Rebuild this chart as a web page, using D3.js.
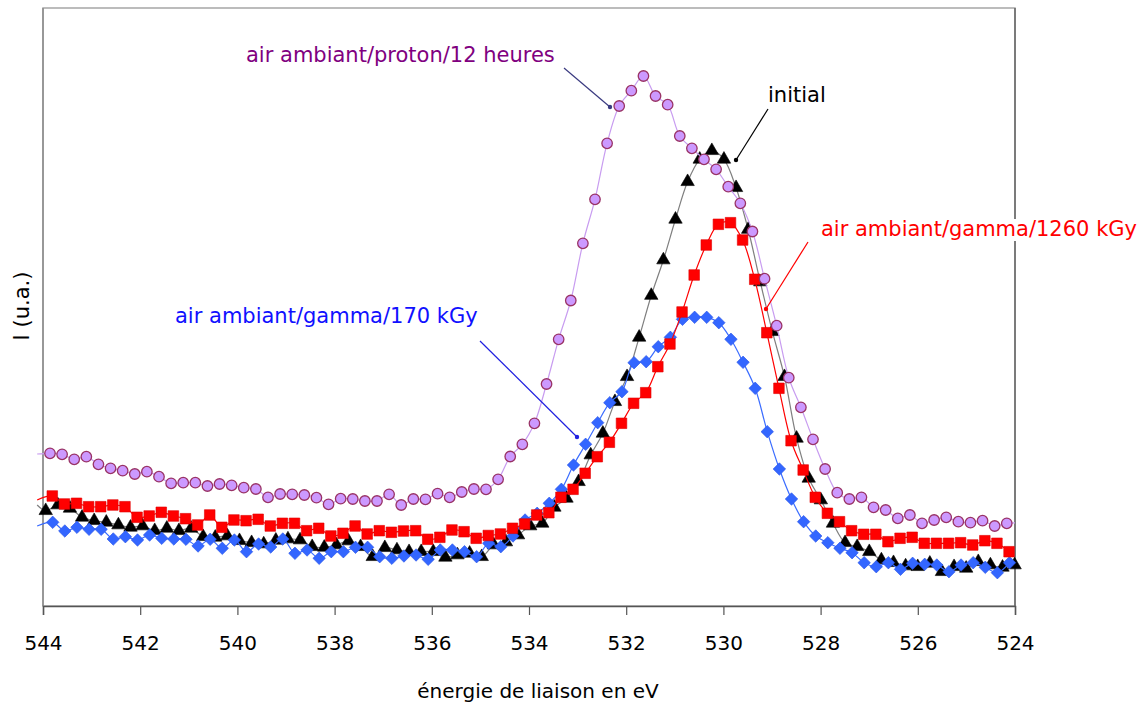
<!DOCTYPE html>
<html>
<head>
<meta charset="utf-8">
<script src="https://cdn.jsdelivr.net/npm/d3@7"></script>
<style>
  html, body { margin: 0; padding: 0; background: #ffffff; }
  svg { display: block; font-family: "DejaVu Sans", Verdana, sans-serif; }
</style>
</head>
<body>
<svg id="chart" width="1146" height="713"></svg>
<script>
// ---------------- data ----------------
const seriesNames = ["initial", "air ambiant/gamma/170 kGy", "air ambiant/gamma/1260 kGy", "air ambiant/proton/12 heures"];
const xTicks = [544, 542, 540, 538, 536, 534, 532, 530, 528, 526, 524];
const xTitle = "énergie de liaison en eV";
const yTitle = "I (u.a.)";

// first binding energy of each series (eV) and sampling step (eV)
const startEnergies = [543.944, 543.80, 543.809, 543.856];
const energyStep = 0.2492;
// points just beyond the left edge of the plot (line only)
const leadEnergy = 544.12;
const leadValues = [100, 79, 105, 151];
// point just beyond the right edge (line only), proton series
const protonTailValue = 82;

const initialValues = [94.3, 100, 96.7, 87.7, 84.3, 82.7, 80, 77.7, 79, 74.3, 76.7, 74.3, 76.7, 68.3, 67.7, 69, 64.3, 62.3, 61, 64.7,
  66, 65, 58.3, 57.7, 60, 64, 58.3, 48.3, 57.3, 55, 53.3, 53.3, 53.3, 47.7, 50, 51.7, 48.3, 60, 63, 70,
  79, 81.7, 97.7, 106.7, 123.3, 150, 171.7, 203.3, 228.3, 267.7, 309.5, 345, 385.7, 423.3, 445.7, 454.3, 445.7, 417.3, 375.5, 323,
  273.3, 228.3, 166.7, 126.7, 105, 81.7, 62.3, 58.3, 53.3, 45, 42.3, 39, 38.3, 41.7, 33.3, 38.3, 36.7, 43.3, 40, 37.7, 40];

const gamma170Values = [82.7, 74, 77.7, 75.7, 75.7, 66, 68.3, 65, 70, 66.7, 66, 65.7, 59, 65.7, 56.7, 65, 53.3, 61, 58, 66,
  51.7, 55, 46.7, 53.3, 53.3, 57.7, 57.7, 48.3, 46.7, 49, 50, 45.7, 55, 55, 53.3, 48.3, 61.7, 58.3, 69, 85,
  91.7, 101.7, 115.7, 140, 160.7, 182.3, 202.3, 213.3, 242.3, 243.3, 258.3, 267.7, 285.7, 287.7, 287.7, 282.3, 265.7, 242.7, 216.7, 173.3,
  136, 106, 83.3, 69, 62.3, 56.7, 52.3, 42.3, 38.3, 42.3, 35.7, 41.7, 40.7, 40, 33.3, 40, 42.3, 37.7, 32.3, 42.3];

const gamma1260Values = [109, 101, 101.7, 98.3, 98.3, 100, 98.3, 87.7, 89, 92.7, 89, 86.3, 80, 90, 77.7, 85, 84.3, 85.7, 79, 81.7,
  81.7, 74.3, 76.7, 69, 71.7, 79, 71, 74.3, 72.7, 74, 74.3, 65.7, 67.7, 75, 73.3, 66.7, 69.5, 71, 76.7, 81,
  90, 92.3, 107.7, 115.7, 131.7, 148.3, 162.7, 181.7, 201.7, 212.3, 238.3, 261, 293, 330, 360, 380.7, 382.3, 365, 325.7, 272.3,
  216.7, 164.3, 135, 107.7, 91.7, 83.3, 74.3, 70.7, 70.7, 63.3, 66.7, 67.7, 61.7, 61.7, 61.7, 62.3, 60, 64.3, 61.7, 53.3];

const protonValues = [151.7, 150.7, 145.7, 148.3, 140.7, 136.7, 134.3, 131, 133.3, 128.3, 121.7, 122.3, 122.3, 119, 121, 119.7, 117.3, 116, 107.7, 111,
  110.7, 110, 107.3, 100.7, 106.3, 106, 104, 104, 110.7, 100, 106, 105.7, 111.3, 107.7, 113, 116, 115.7, 125.7, 148.5, 160.7,
  181.7, 221, 265.7, 304.5, 361.7, 405.7, 461.7, 499, 514.3, 529, 509, 500.3, 469, 456.7, 445.7, 435.7, 418.3, 401.7, 373.5, 326.3,
  279.3, 227.3, 197.7, 165.7, 136, 112.3, 106, 107.7, 97.7, 95, 86.7, 90, 81.7, 85, 87.7, 83.3, 82.3, 84.3, 79, 81.7];

// ---------------- styles ----------------
const styles = [
  { line: "#7f7f7f", fill: "#000000", stroke: "#000000", shape: "triangle" },
  { line: "#3a6cff", fill: "#3366ff", stroke: "#2a55e8", shape: "diamond" },
  { line: "#ff0000", fill: "#ff0000", stroke: "#e00000", shape: "square" },
  { line: "#c89cf0", fill: "#cc99ff", stroke: "#993366", shape: "circle" }
];

const svg = d3.select("#chart");
const W = 1146, H = 713;
const plot = { left: 43, right: 1015, top: 8, bottom: 606 };

const x = d3.scaleLinear().domain([544, 524]).range([plot.left, plot.right]);
const y = d3.scaleLinear().domain([0, 600]).range([605, 5]);

// plot frame
svg.append("rect")
  .attr("x", plot.left).attr("y", plot.top)
  .attr("width", plot.right - plot.left).attr("height", plot.bottom - plot.top)
  .attr("fill", "none").attr("stroke", "#a6a6a6").attr("stroke-width", 1.5);
svg.append("line").attr("x1", plot.left).attr("x2", plot.left).attr("y1", plot.top).attr("y2", plot.bottom)
  .attr("stroke", "#8c8c8c").attr("stroke-width", 1.5);
svg.append("line").attr("x1", plot.right).attr("x2", plot.right).attr("y1", plot.top).attr("y2", plot.bottom)
  .attr("stroke", "#666666").attr("stroke-width", 1.5);

// x axis
const xAxis = d3.axisBottom(x).tickValues(xTicks).tickSize(9).tickPadding(21).tickFormat(d3.format("d"));
const gx = svg.append("g").attr("transform", `translate(0,${plot.bottom})`).call(xAxis);
gx.select(".domain").attr("stroke", "#555555").attr("stroke-width", 1.5);
gx.selectAll(".tick line").attr("stroke", "#555555").attr("stroke-width", 1.2);
gx.selectAll(".tick text").attr("font-size", 20).attr("fill", "#000").attr("font-family", "DejaVu Sans, sans-serif");

svg.append("text").attr("x", 538).attr("y", 698).attr("text-anchor", "middle")
  .attr("font-size", 20).attr("fill", "#000").text(xTitle);
svg.append("text").attr("transform", "translate(22,306) rotate(-90)")
  .attr("text-anchor", "middle").attr("dominant-baseline", "central")
  .attr("font-size", 21).attr("fill", "#000").text(yTitle);

// clip for lines
svg.append("defs").append("clipPath").attr("id", "lineclip")
  .append("rect").attr("x", 36).attr("y", 0).attr("width", plot.right - 36).attr("height", H);

const allValues = [initialValues, gamma170Values, gamma1260Values, protonValues];

const seriesData = allValues.map((vals, i) => {
  const pts = vals.map((v, k) => ({ e: startEnergies[i] - k * energyStep, v: v }));
  const linePts = [{ e: leadEnergy, v: leadValues[i] }].concat(pts);
  if (i === 3) linePts.push({ e: startEnergies[i] - vals.length * energyStep, v: protonTailValue });
  return { name: seriesNames[i], pts, linePts, style: styles[i] };
});

const line = d3.line().x(d => x(d.e)).y(d => y(d.v)).curve(d3.curveCatmullRom.alpha(0.5));

const symbolFor = {
  triangle: d3.symbol().type(d3.symbolTriangle).size(78),
  square: d3.symbol().type(d3.symbolSquare).size(112),
  diamond: d3.symbol().type(d3.symbolSquare).size(78),
  circle: d3.symbol().type(d3.symbolCircle).size(86)
};

seriesData.forEach(s => {
  const g = svg.append("g");
  g.append("path").datum(s.linePts).attr("d", line)
    .attr("fill", "none").attr("stroke", s.style.line).attr("stroke-width", 1.2)
    .attr("clip-path", "url(#lineclip)");
  g.selectAll("path.mk").data(s.pts.filter(d => d.e <= 544 && d.e >= 523.98)).enter()
    .append("path").attr("class", "mk")
    .attr("d", symbolFor[s.style.shape])
    .attr("transform", d => `translate(${x(d.e)},${y(d.v)})` + (s.style.shape === "diamond" ? " rotate(45)" : ""))
    .attr("fill", s.style.fill).attr("stroke", s.style.stroke).attr("stroke-width", s.style.shape === "circle" ? 1.3 : 0.6);
});

// annotations (label text, leader line from -> to)
const annotations = [
  { text: seriesNames[3], color: "#800080", lineColor: "#3a3a80", tx: 246, ty: 62, anchor: "start", from: [564, 68], to: [610, 107], bg: false },
  { text: seriesNames[0], color: "#000000", lineColor: "#000000", tx: 768, ty: 102, anchor: "start", from: [768, 109], to: [736, 160], bg: false },
  { text: seriesNames[2], color: "#ff0000", lineColor: "#ff0000", tx: 1137, ty: 236, anchor: "end", from: [808, 242], to: [766, 309], bg: true },
  { text: seriesNames[1], color: "#1010ff", lineColor: "#2020e0", tx: 175, ty: 323, anchor: "start", from: [480, 341], to: [577, 437], bg: false }
];

annotations.forEach(a => {
  const g = svg.append("g");
  const t = g.append("text").attr("x", a.tx).attr("y", a.ty).attr("text-anchor", a.anchor)
    .attr("font-size", 21).attr("fill", a.color).text(a.text);
  if (a.bg) {
    const bb = t.node().getBBox();
    g.insert("rect", "text").attr("x", bb.x - 2).attr("y", bb.y + 2).attr("width", bb.width + 4).attr("height", bb.height - 2)
      .attr("fill", "#ffffff");
  }
  g.append("line").attr("x1", a.from[0]).attr("y1", a.from[1]).attr("x2", a.to[0]).attr("y2", a.to[1])
    .attr("stroke", a.lineColor).attr("stroke-width", 1.2);
  g.append("circle").attr("cx", a.to[0]).attr("cy", a.to[1]).attr("r", 2.2).attr("fill", a.lineColor);
});
</script>
</body>
</html>
